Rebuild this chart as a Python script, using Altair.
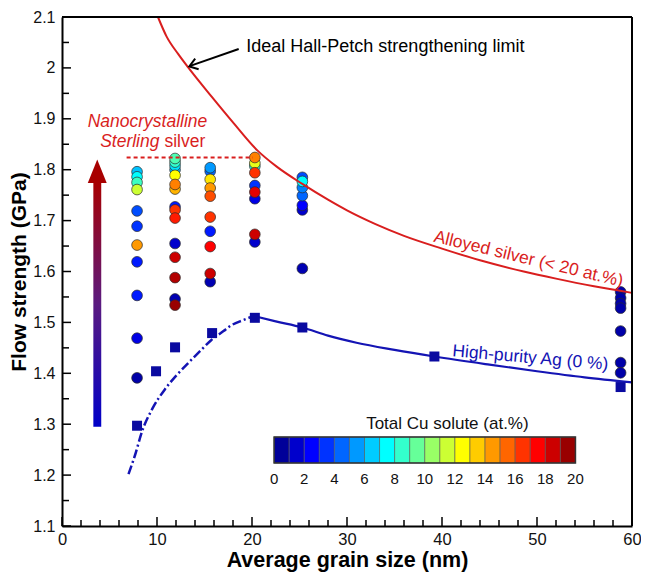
import altair as alt
import pandas as pd

FONT = "Liberation Sans"

# ---------------- data ----------------
# Cu-alloyed (Sterling) silver samples: one list per grain-size column
col_d = [7.9, 11.9, 15.6, 20.3, 25.3, 58.8]
col_strength = [
    [1.796, 1.786, 1.775, 1.761, 1.719, 1.689, 1.652, 1.619, 1.553, 1.469, 1.391],
    [1.822, 1.815, 1.808, 1.800, 1.789, 1.771, 1.762, 1.727, 1.721, 1.705, 1.655, 1.628, 1.588, 1.546, 1.534],
    [1.804, 1.797, 1.781, 1.764, 1.748, 1.707, 1.679, 1.649, 1.596, 1.580],
    [1.824, 1.813, 1.807, 1.794, 1.769, 1.756, 1.743, 1.673, 1.658],
    [1.785, 1.777, 1.765, 1.749, 1.730, 1.721, 1.606],
    [1.560, 1.548, 1.537, 1.528, 1.483, 1.421, 1.401],
]
col_cu = [
    [6.3, 7.5, 8.7, 11.5, 4.0, 3.5, 14.5, 3.0, 3.0, 2.0, 0.8],
    [9.0, 8.5, 7.0, 6.0, 12.5, 15.0, 14.0, 3.0, 16.5, 17.0, 1.5, 18.5, 19.0, 1.0, 19.5],
    [5.5, 4.5, 13.0, 14.5, 16.0, 16.5, 3.0, 17.5, 18.5, 1.0],
    [15.0, 12.0, 8.0, 16.5, 3.5, 18.0, 2.0, 18.5, 1.5],
    [4.0, 7.5, 5.0, 4.5, 2.5, 1.5, 1.0],
    [0.8, 0.8, 0.8, 0.8, 0.8, 0.8, 0.8],
]

# High-purity Ag (squares)
hp_d = [7.9, 9.9, 11.9, 15.8, 20.3, 25.3, 39.2, 58.8]
hp_s = [1.297, 1.404, 1.451, 1.479, 1.509, 1.490, 1.433, 1.373]

# Ideal Hall-Petch limit (red curve)
red_d = [10.1, 11.0, 12.24, 13.28, 15.73, 18.13, 20.56, 22.6, 25.3, 28.0, 30.0, 33.0, 36.0,
         40.0, 44.0, 48.6, 52.0, 56.0, 60.0]
red_s = [2.100, 2.062, 2.027, 2.001, 1.944, 1.890, 1.838, 1.806, 1.772, 1.741, 1.720, 1.693, 1.670,
         1.645, 1.622, 1.600, 1.586, 1.571, 1.558]

# High-purity Ag trend: dash-dot (below peak) and solid (above peak)
bdd_d = [7.0, 7.7, 8.43, 9.5, 10.85, 12.0, 13.28, 14.5, 15.7, 17.0, 17.8, 19.0, 19.86, 20.3]
bdd_s = [1.202, 1.240, 1.286, 1.330, 1.369, 1.395, 1.420, 1.443, 1.465, 1.483, 1.494, 1.504, 1.510, 1.512]
bsl_d = [20.3, 22.5, 25.3, 28.0, 31.0, 35.0, 39.2, 45.0, 50.0, 55.0, 60.0]
bsl_s = [1.512, 1.502, 1.490, 1.474, 1.460, 1.446, 1.433, 1.417, 1.404, 1.392, 1.382]

# Sterling-silver level (dashed)
sterling_d = [6.8, 20.1]
sterling_s = 1.824

# axis ticks
x_major = [0, 10, 20, 30, 40, 50, 60]
x_minor = [2, 4, 6, 8, 12, 14, 16, 18, 22, 24, 26, 28, 32, 34, 36, 38, 42, 44, 46, 48, 52, 54, 56, 58]
y_major = [1.1, 1.2, 1.3, 1.4, 1.5, 1.6, 1.7, 1.8, 1.9, 2.0, 2.1]
y_minor = [1.15, 1.25, 1.35, 1.45, 1.55, 1.65, 1.75, 1.85, 1.95, 2.05]

# colour bar
cb_ticks = [0, 2, 4, 6, 8, 10, 12, 14, 16, 18, 20]
cb_bands = list(range(20))

jet_stops = [0, 2.5, 5, 7.5, 10, 12.5, 15, 17.5, 20]
jet_colors = ["#00007f", "#0000ff", "#0080ff", "#00ffff", "#80ff80",
              "#ffff00", "#ff8000", "#ff0000", "#7f0000"]

# ---------------- frames ----------------
rows = []
for d, ss, cc in zip(col_d, col_strength, col_cu):
    for s, c in zip(ss, cc):
        rows.append({"d": d, "s": s, "cu": c})
alloy_df = pd.DataFrame(rows)
hp_df = pd.DataFrame({"d": hp_d, "s": hp_s})
red_df = pd.DataFrame({"d": red_d, "s": red_s})
bdd_df = pd.DataFrame({"d": bdd_d, "s": bdd_s})
bsl_df = pd.DataFrame({"d": bsl_d, "s": bsl_s})

W, H = 570, 509
xs = alt.Scale(domain=[0, 60], nice=False, zero=False)
ys = alt.Scale(domain=[1.1, 2.1], nice=False, zero=False)
jet = alt.Scale(domain=jet_stops, range=jet_colors, interpolate="rgb")


def X(f="d"):
    return alt.X(f, type="quantitative", scale=xs, axis=None)


def Y(f="s"):
    return alt.Y(f, type="quantitative", scale=ys, axis=None)


RED = "#d91e1e"
BLUE = "#1414b4"
TS = 17.5

x_axis = alt.Axis(orient="bottom", values=x_major, format="d", title="Average grain size (nm)",
                  ticks=False, grid=False, domainColor="#000", domainWidth=2, labelFontSize=16.5,
                  labelColor="#111", labelFont=FONT, labelPadding=5, labelFlush=False,
                  labelOverlap=False, titleFont=FONT, titleFontSize=21.5, titleFontWeight="bold",
                  titleColor="#000", titlePadding=2)
y_axis = alt.Axis(orient="left", values=y_major, format=".1~f", title="Flow strength (GPa)",
                  ticks=False, grid=False, domainColor="#000", domainWidth=2, labelFontSize=16,
                  labelColor="#111", labelFont=FONT, labelPadding=7, labelFlush=False,
                  labelOverlap=False, titleFont=FONT, titleFontSize=21, titleFontWeight="bold",
                  titleColor="#000", titlePadding=3)

red_line = alt.Chart(red_df).mark_line(color=RED, strokeWidth=2, interpolate="monotone").encode(x=X(), y=Y())
ster = alt.Chart(pd.DataFrame({"d": [sterling_d[0]], "d2": [sterling_d[1]], "s": [sterling_s]})).mark_rule(
    color=RED, strokeWidth=2, strokeDash=[4, 3]).encode(x=X(), x2="d2", y=Y())
blue_dd = alt.Chart(bdd_df).mark_line(color=BLUE, strokeWidth=2.5, strokeDash=[9, 3, 2, 3],
                                      interpolate="monotone").encode(x=X(), y=Y())
blue_sl = alt.Chart(bsl_df).mark_line(color=BLUE, strokeWidth=2.2, interpolate="monotone").encode(x=X(), y=Y())

shaft = alt.Chart(pd.DataFrame({"d": [3.3], "d2": [4.13], "s": [1.295], "s2": [1.776]})).mark_rect(
    color=alt.Gradient(gradient="linear",
                       stops=[alt.GradientStop(offset=0, color="#0000c8"),
                              alt.GradientStop(offset=0.5, color="#5a1a80"),
                              alt.GradientStop(offset=1, color="#a80000")],
                       x1=0, y1=1, x2=0, y2=0)
).encode(x=X(), x2="d2", y=Y(), y2="s2")
head = alt.Chart(pd.DataFrame({"d": [3.71], "s": [1.797]})).mark_point(
    shape="M0,-1L0.8,1L-0.8,1Z", filled=True, size=560, color="#a80000", opacity=1
).encode(x=X(), y=Y())

squares = alt.Chart(hp_df).mark_square(size=100, color="#0a0aa0", opacity=1).encode(x=X(), y=Y())

circles = alt.Chart(alloy_df).mark_circle(size=115, opacity=1, stroke="#2a2a2a", strokeWidth=0.7).encode(
    x=alt.X("d:Q", scale=xs, axis=x_axis),
    y=alt.Y("s:Q", scale=ys, axis=y_axis),
    color=alt.Color("cu:Q", scale=jet, legend=None),
    order=alt.Order("cu:Q"),
)

ytm = alt.Chart(pd.DataFrame({"v": y_major})).mark_rule(color="#000", strokeWidth=1.5).encode(
    y=alt.Y("v:Q", scale=ys, axis=None), x=alt.value(0), x2=alt.value(9))
ytn = alt.Chart(pd.DataFrame({"v": y_minor})).mark_rule(color="#000", strokeWidth=1.5).encode(
    y=alt.Y("v:Q", scale=ys, axis=None), x=alt.value(0), x2=alt.value(7))
xtm = alt.Chart(pd.DataFrame({"v": x_major})).mark_rule(color="#000", strokeWidth=1.5).encode(
    x=alt.X("v:Q", scale=xs, axis=None), y=alt.value(H), y2=alt.value(H - 9))
xtn = alt.Chart(pd.DataFrame({"v": x_minor})).mark_rule(color="#000", strokeWidth=1.5).encode(
    x=alt.X("v:Q", scale=xs, axis=None), y=alt.value(H), y2=alt.value(H - 6))
# top and right frame lines
top_line = alt.Chart(pd.DataFrame({"v": [2.1]})).mark_rule(color="#000", strokeWidth=2).encode(
    y=alt.Y("v:Q", scale=ys, axis=None), x=alt.value(0), x2=alt.value(W))
right_line = alt.Chart(pd.DataFrame({"v": [60]})).mark_rule(color="#000", strokeWidth=2).encode(
    x=alt.X("v:Q", scale=xs, axis=None), y=alt.value(0), y2=alt.value(H))

# annotation arrow to the red curve
arr_line = alt.Chart(pd.DataFrame({"d": [18.6], "d2": [13.5], "s": [2.037], "s2": [2.004]})).mark_rule(
    color="#000", strokeWidth=2).encode(x=X(), x2="d2", y=Y(), y2="s2")
arr_head = alt.Chart(pd.DataFrame({"d": [13.4], "s": [2.003]})).mark_point(
    shape="M1,-0.7L0,0L1,0.7", filled=False, size=256, color="#000", strokeWidth=2,
    angle=342, opacity=1).encode(x=X(), y=Y())

t_ideal = alt.Chart(pd.DataFrame({"d": [19.4], "s": [2.041], "t": ["Ideal Hall-Petch strengthening limit"]})).mark_text(
    align="left", baseline="middle", font=FONT, fontSize=18, color="#000").encode(x=X(), y=Y(), text="t:N")
t_nano = alt.Chart(pd.DataFrame({"d": [9.0], "s": [1.893], "t": ["Nanocrystalline"]})).mark_text(
    align="center", baseline="middle", font=FONT, fontSize=TS, fontStyle="italic", color=RED).encode(x=X(), y=Y(), text="t:N")
t_ster = alt.Chart(pd.DataFrame({"d": [10.26], "s": [1.855], "t": ["Sterling"]})).mark_text(
    align="right", baseline="middle", font=FONT, fontSize=TS, fontStyle="italic", color=RED).encode(x=X(), y=Y(), text="t:N")
t_silv = alt.Chart(pd.DataFrame({"d": [10.78], "s": [1.855], "t": ["silver"]})).mark_text(
    align="left", baseline="middle", font=FONT, fontSize=TS, color=RED).encode(x=X(), y=Y(), text="t:N")
t_alloy = alt.Chart(pd.DataFrame({"d": [49.1], "s": [1.624], "t": ["Alloyed silver (< 20 at.%)"]})).mark_text(
    align="center", baseline="middle", font=FONT, fontSize=TS, color=RED, angle=13.5).encode(x=X(), y=Y(), text="t:N")
t_hp = alt.Chart(pd.DataFrame({"d": [49.3], "s": [1.430], "t": ["High-purity Ag (0 %)"]})).mark_text(
    align="center", baseline="middle", font=FONT, fontSize=TS, color=BLUE, angle=5).encode(x=X(), y=Y(), text="t:N")

# ---------------- colour bar (own scales, placed as fractions of the plot) ----------------
cbx = alt.Scale(domain=[0, 20], range=[W * 0.3721, W * 0.9008], nice=False, zero=False)
cby = alt.Scale(domain=[0, 1], range=[H * 0.8762, H * 0.8251], nice=False, zero=False)
band_df = pd.DataFrame({"a": cb_bands, "b": [v + 1 for v in cb_bands],
                        "cu": [v + 0.5 for v in cb_bands], "y0": 0, "y1": 1})
bands = alt.Chart(band_df).mark_rect(stroke="#555", strokeWidth=0.6, opacity=1).encode(
    x=alt.X("a:Q", scale=cbx, axis=None), x2="b",
    y=alt.Y("y0:Q", scale=cby, axis=None), y2="y1",
    color=alt.Color("cu:Q", scale=jet, legend=None))
frame = alt.Chart(pd.DataFrame({"a": [0], "b": [20], "y0": [0], "y1": [1]})).mark_rect(
    fillOpacity=0, stroke="#333", strokeWidth=1.5).encode(
    x=alt.X("a:Q", scale=cbx, axis=None), x2="b",
    y=alt.Y("y0:Q", scale=cby, axis=None), y2="y1")
cb_lab = alt.Chart(pd.DataFrame({"v": cb_ticks, "y": -0.6})).mark_text(
    font=FONT, fontSize=15, color="#111", baseline="middle").encode(
    x=alt.X("v:Q", scale=cbx, axis=None), y=alt.Y("y:Q", scale=cby, axis=None), text=alt.Text("v:Q", format="d"))
cb_title = alt.Chart(pd.DataFrame({"v": [11.5], "y": [1.48], "t": ["Total Cu solute (at.%)"]})).mark_text(
    font=FONT, fontSize=17, color="#111", baseline="middle").encode(
    x=alt.X("v:Q", scale=cbx, axis=None), y=alt.Y("y:Q", scale=cby, axis=None), text="t:N")

chart = alt.layer(
    circles, red_line, ster, blue_dd, blue_sl, shaft, head, squares,
    ytm, ytn, xtm, xtn, top_line, right_line, arr_line, arr_head,
    t_ideal, t_nano, t_ster, t_silv, t_alloy, t_hp,
    bands, frame, cb_lab, cb_title,
).resolve_scale(x="independent", y="independent").properties(
    width=W, height=H,
    padding={"left": 54, "top": 9, "right": 9, "bottom": 47},
    autosize=alt.AutoSizeParams(type="none"),
).configure_view(stroke=None).configure(background="white", font=FONT)

chart.save("out.html", embed_options={"renderer": "svg", "actions": False})
